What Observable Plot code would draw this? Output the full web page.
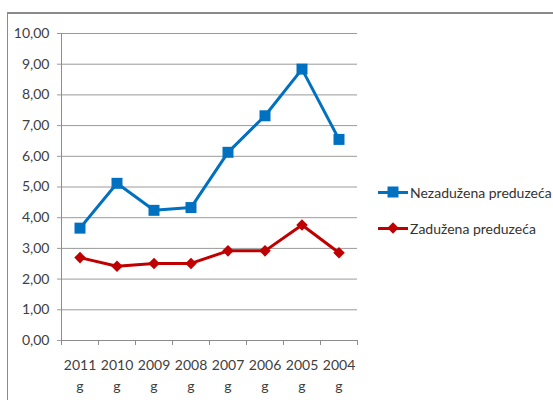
<!DOCTYPE html>
<html><head><meta charset="utf-8">
<script src="https://cdn.jsdelivr.net/npm/d3@7"></script>
<script src="https://cdn.jsdelivr.net/npm/@observablehq/plot@0.6"></script>
<style>
body{margin:0;background:#fff;font-family:Lato,"Open Sans",sans-serif;}
#wrap{position:relative;width:553px;height:400px;overflow:hidden;background:#fff}
#border{position:absolute;left:7px;top:12px;right:0;bottom:-5px;border-left:1px solid #8a8a8a;border-top:2px solid #8a8a8a}
#chart{position:absolute;left:0;top:0}
#legend{position:absolute;left:378px;top:183px;font-size:14px;color:#333}
.item{display:flex;align-items:center;height:18px;margin-bottom:18px;white-space:nowrap}
.sw{position:relative;width:30px;height:3px;margin-right:2px}
.sw::after{content:"";position:absolute;left:50%;top:50%;width:11px;height:11px;transform:translate(-50%,-50%);background:inherit}
.sw.d::after{transform:translate(-50%,-50%) rotate(45deg);width:8px;height:8px}
</style>
</head><body>
<div id="wrap"><div id="border"></div><div id="chart"></div><div id="legend"></div></div>
<script>
const categories = ["2011 g","2010 g","2009 g","2008 g","2007 g","2006 g","2005 g","2004 g"];
const nezaduzena = [3.66,5.12,4.24,4.33,6.13,7.32,8.84,6.55];
const zaduzena = [2.70,2.42,2.51,2.51,2.92,2.92,3.76,2.86];
const seriesNames = ["Nezadužena preduzeća","Zadužena preduzeća"];
const seriesColors = ["#0070c0","#c00000"];
const yTicks = [0,1,2,3,4,5,6,7,8,9,10];

const data = [];
categories.forEach((c,i)=>{
  data.push({cat:c, value:nezaduzena[i], series:seriesNames[0]});
  data.push({cat:c, value:zaduzena[i], series:seriesNames[1]});
});
const blue = data.filter(d=>d.series===seriesNames[0]);
const red = data.filter(d=>d.series===seriesNames[1]);

const W=553, H=400, mL=61, mR=196;
const half = (W-mL-mR)/categories.length/2;
const font = 'Lato,"Open Sans",sans-serif';

const chart = Plot.plot({
  width:W, height:H,
  marginLeft:mL, marginRight:mR, marginTop:33, marginBottom:60,
  style:{fontFamily:font, background:"transparent", color:"#404040"},
  x:{type:"band", domain:categories, padding:0, axis:null, label:null},
  y:{domain:[0,10], axis:null, label:null},
  marks:[
    Plot.gridY(yTicks, {stroke:"#9a9a9a", strokeOpacity:1, strokeWidth:1}),
    Plot.axisY(yTicks, {tickSize:4, tickPadding:8, stroke:"#9a9a9a", fontSize:14, fill:"#404040", label:null,
      tickFormat:d=>d.toFixed(2).replace(".",",")}),
    Plot.ruleY([0], {stroke:"#8c8c8c", strokeWidth:1}),
    Plot.ruleX([categories[0]], {y1:0, y2:10, dx:-half, stroke:"#8c8c8c", strokeWidth:1}),
    Plot.axisX(categories, {tickSize:5, dx:-half, tickFormat:()=>"", stroke:"#8c8c8c", label:null}),
    Plot.axisX([categories[categories.length-1]], {tickSize:5, dx:half, tickFormat:()=>"", stroke:"#8c8c8c", label:null}),
    Plot.axisX(categories, {tickSize:0, tickPadding:15, fontSize:14, fill:"#404040", lineHeight:1.5, label:null,
      tickFormat:d=>d.replace(" ","\n")}),
    Plot.line(blue, {x:"cat", y:"value", stroke:seriesColors[0], strokeWidth:3}),
    Plot.line(red, {x:"cat", y:"value", stroke:seriesColors[1], strokeWidth:3}),
    Plot.dot(blue, {x:"cat", y:"value", symbol:"square", r:6.2, fill:seriesColors[0], stroke:"none"}),
    Plot.dot(red, {x:"cat", y:"value", symbol:"diamond2", r:5.2, fill:seriesColors[1], stroke:"none"})
  ]
});
document.getElementById("chart").appendChild(chart);

const legend = document.getElementById("legend");
seriesNames.forEach((n,i)=>{
  const it = document.createElement("div"); it.className="item";
  const sw = document.createElement("span"); sw.className="sw"+(i===1?" d":"");
  sw.style.background = seriesColors[i];
  const t = document.createElement("span"); t.textContent = n;
  it.appendChild(sw); it.appendChild(t); legend.appendChild(it);
});
</script>
</body></html>
